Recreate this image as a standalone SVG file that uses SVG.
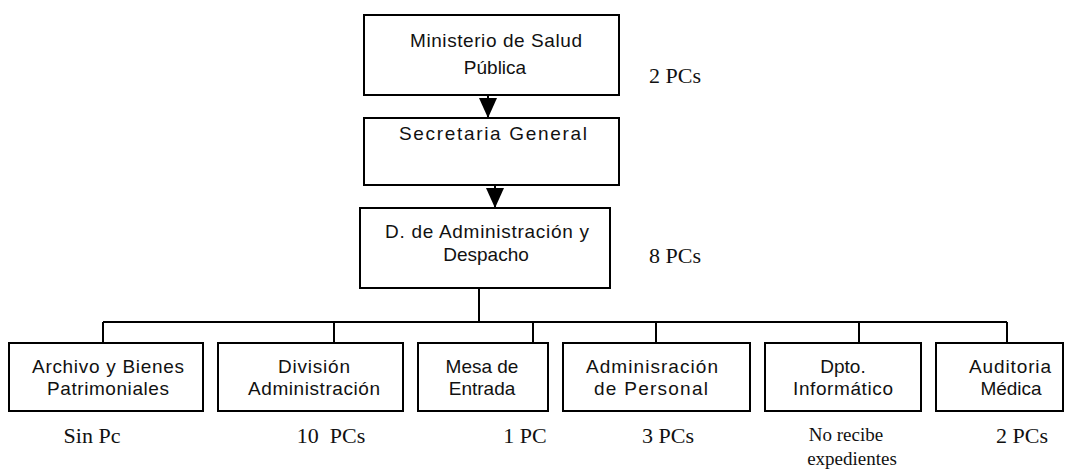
<svg xmlns="http://www.w3.org/2000/svg" width="1072" height="472" viewBox="0 0 1072 472">
<style>
.box{fill:#fff;stroke:#000;stroke-width:2}
.t{font-family:"Liberation Sans",Arial,sans-serif;font-size:19px;fill:#111;text-anchor:middle}
.n{font-family:"Liberation Serif","Times New Roman",serif;font-size:22px;fill:#111;text-anchor:middle}
.ns{font-family:"Liberation Serif","Times New Roman",serif;font-size:19px;fill:#111;text-anchor:middle}
.c{fill:none;stroke:#000;stroke-width:2}
</style>
<defs>
<marker id="arr" markerUnits="userSpaceOnUse" markerWidth="20" markerHeight="18" refX="20" refY="9" orient="auto">
<path d="M0,0 L20,9 L0,18 z" fill="#000"/>
</marker>
</defs>
<rect width="1072" height="472" fill="#fff"/>
<g id="connectors">
<line class="c" x1="488" y1="95" x2="488" y2="118" marker-end="url(#arr)"/>
<line class="c" x1="495" y1="185" x2="495" y2="208" marker-end="url(#arr)"/>
<polyline class="c" points="479,288 479,322"/>
<line class="c" x1="103" y1="322" x2="1007" y2="322"/>
<line class="c" x1="103" y1="322" x2="103" y2="343"/>
<line class="c" x1="334" y1="322" x2="334" y2="343"/>
<line class="c" x1="533" y1="322" x2="533" y2="343"/>
<line class="c" x1="656" y1="322" x2="656" y2="343"/>
<line class="c" x1="859" y1="322" x2="859" y2="343"/>
<line class="c" x1="1007" y1="322" x2="1007" y2="343"/>
</g>
<g id="ministerio">
<rect class="box" x="364" y="15" width="255" height="80"/>
<text class="t" x="496" y="47" textLength="172">Ministerio de Salud</text>
<text class="t" x="495" y="74">Pública</text>
</g>
<text class="n" x="675" y="83">2 PCs</text>
<g id="secretaria">
<rect class="box" x="364" y="118" width="255" height="67"/>
<text class="t" x="493" y="140" textLength="188">Secretaria General</text>
</g>
<g id="direccion">
<rect class="box" x="360" y="208" width="250" height="80"/>
<text class="t" x="487" y="238" textLength="204">D. de Administración y</text>
<text class="t" x="486" y="261">Despacho</text>
</g>
<text class="n" x="675" y="263">8 PCs</text>
<g id="archivo">
<rect class="box" x="9" y="343" width="194" height="68"/>
<text class="t" x="108" y="373" textLength="152">Archivo y Bienes</text>
<text class="t" x="108" y="395" textLength="122">Patrimoniales</text>
</g>
<text class="n" x="92" y="443">Sin Pc</text>
<g id="division">
<rect class="box" x="218" y="343" width="185" height="68"/>
<text class="t" x="314" y="373" textLength="72">División</text>
<text class="t" x="314" y="395" textLength="132">Administración</text>
</g>
<text class="n" x="331" y="443" xml:space="preserve">10  PCs</text>
<g id="mesa">
<rect class="box" x="418" y="343" width="130" height="68"/>
<text class="t" x="482" y="373">Mesa de</text>
<text class="t" x="482" y="395">Entrada</text>
</g>
<text class="n" x="525" y="443">1 PC</text>
<g id="personal">
<rect class="box" x="563" y="343" width="187" height="68"/>
<text class="t" x="652" y="373" textLength="132">Adminisración</text>
<text class="t" x="651" y="395" textLength="114">de Personal</text>
</g>
<text class="n" x="668" y="443">3 PCs</text>
<g id="informatico">
<rect class="box" x="765" y="343" width="156" height="68"/>
<text class="t" x="843" y="373">Dpto.</text>
<text class="t" x="843" y="395" textLength="100">Informático</text>
</g>
<text class="ns" x="846" y="441">No recibe</text>
<text class="ns" x="852" y="465">expedientes</text>
<g id="auditoria">
<rect class="box" x="936" y="343" width="127" height="68"/>
<text class="t" x="1010" y="373" textLength="82">Auditoria</text>
<text class="t" x="1011" y="395">Médica</text>
</g>
<text class="n" x="1022" y="443">2 PCs</text>
</svg>
